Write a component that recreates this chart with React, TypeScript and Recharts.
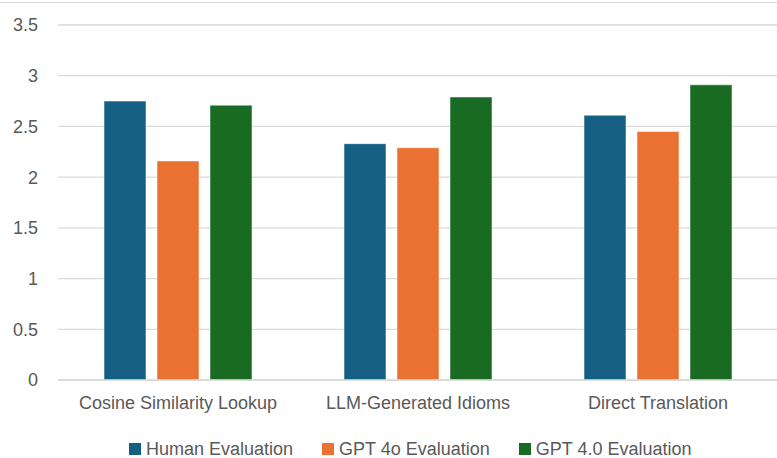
import { BarChart, Bar, XAxis, YAxis, CartesianGrid, Legend } from 'recharts'

const categories = ['Cosine Similarity Lookup', 'LLM-Generated Idioms', 'Direct Translation']
const humanEval = [2.75, 2.33, 2.61]
const gpt4oEval = [2.16, 2.29, 2.45]
const gpt40Eval = [2.71, 2.79, 2.91]
const yTicks = [0, 0.5, 1, 1.5, 2, 2.5, 3, 3.5]

const series = [
  { key: 'human', name: 'Human Evaluation', color: '#156082' },
  { key: 'gpt4o', name: 'GPT 4o Evaluation', color: '#E97132' },
  { key: 'gpt40', name: 'GPT 4.0 Evaluation', color: '#196B24' },
]

const data = categories.map((c, i) => ({
  name: c,
  human: humanEval[i],
  gpt4o: gpt4oEval[i],
  gpt40: gpt40Eval[i],
}))

const FONT = '"Liberation Sans", Arial, sans-serif'
const TEXT = '#595959'

function LegendRow() {
  return (
    <div style={{ height: 30, boxSizing: 'border-box', paddingTop: 12, paddingLeft: 129, display: 'flex', alignItems: 'flex-start', gap: 29, fontFamily: FONT, fontSize: 18, lineHeight: '18px', color: TEXT, whiteSpace: 'nowrap' }}>
      {series.map((s) => (
        <span key={s.key} style={{ display: 'flex', alignItems: 'center', height: 18 }}>
          <span style={{ width: 12, height: 12, background: s.color, marginRight: 5, display: 'inline-block' }} />
          {s.name}
        </span>
      ))}
    </div>
  )
}

export default function App() {
  return (
    <div style={{ position: 'absolute', left: 0, top: 0, width: 777, height: 458, overflow: 'hidden', background: '#fff' }}>
      <div style={{ position: 'absolute', left: 0, top: 2, width: 777, borderTop: '1px solid #d9d9d9' }} />
      <BarChart width={778} height={458} data={data} margin={{ top: 25, right: 0, bottom: 0, left: 0 }} barSize={42} barGap={11}>
        <CartesianGrid vertical={false} stroke="#d9d9d9" strokeWidth={1.3} />
        <XAxis
          dataKey="name"
          axisLine={{ stroke: '#d9d9d9', strokeWidth: 1.3 }}
          tickLine={false}
          tickSize={0}
          tickMargin={16}
          height={48}
          tick={{ fill: TEXT, fontSize: 18, fontFamily: FONT }}
        />
        <YAxis
          domain={[0, 3.5]}
          ticks={yTicks}
          axisLine={false}
          tickLine={false}
          tickSize={0}
          tickMargin={20}
          width={58}
          tick={{ fill: TEXT, fontSize: 18, fontFamily: FONT }}
        />
        <Legend verticalAlign="bottom" content={() => <LegendRow />} />
        {series.map((s) => (
          <Bar key={s.key} dataKey={s.key} name={s.name} fill={s.color} stroke="#ffffff" strokeOpacity={0.5} strokeWidth={1} isAnimationActive={false} />
        ))}
      </BarChart>
    </div>
  )
}
